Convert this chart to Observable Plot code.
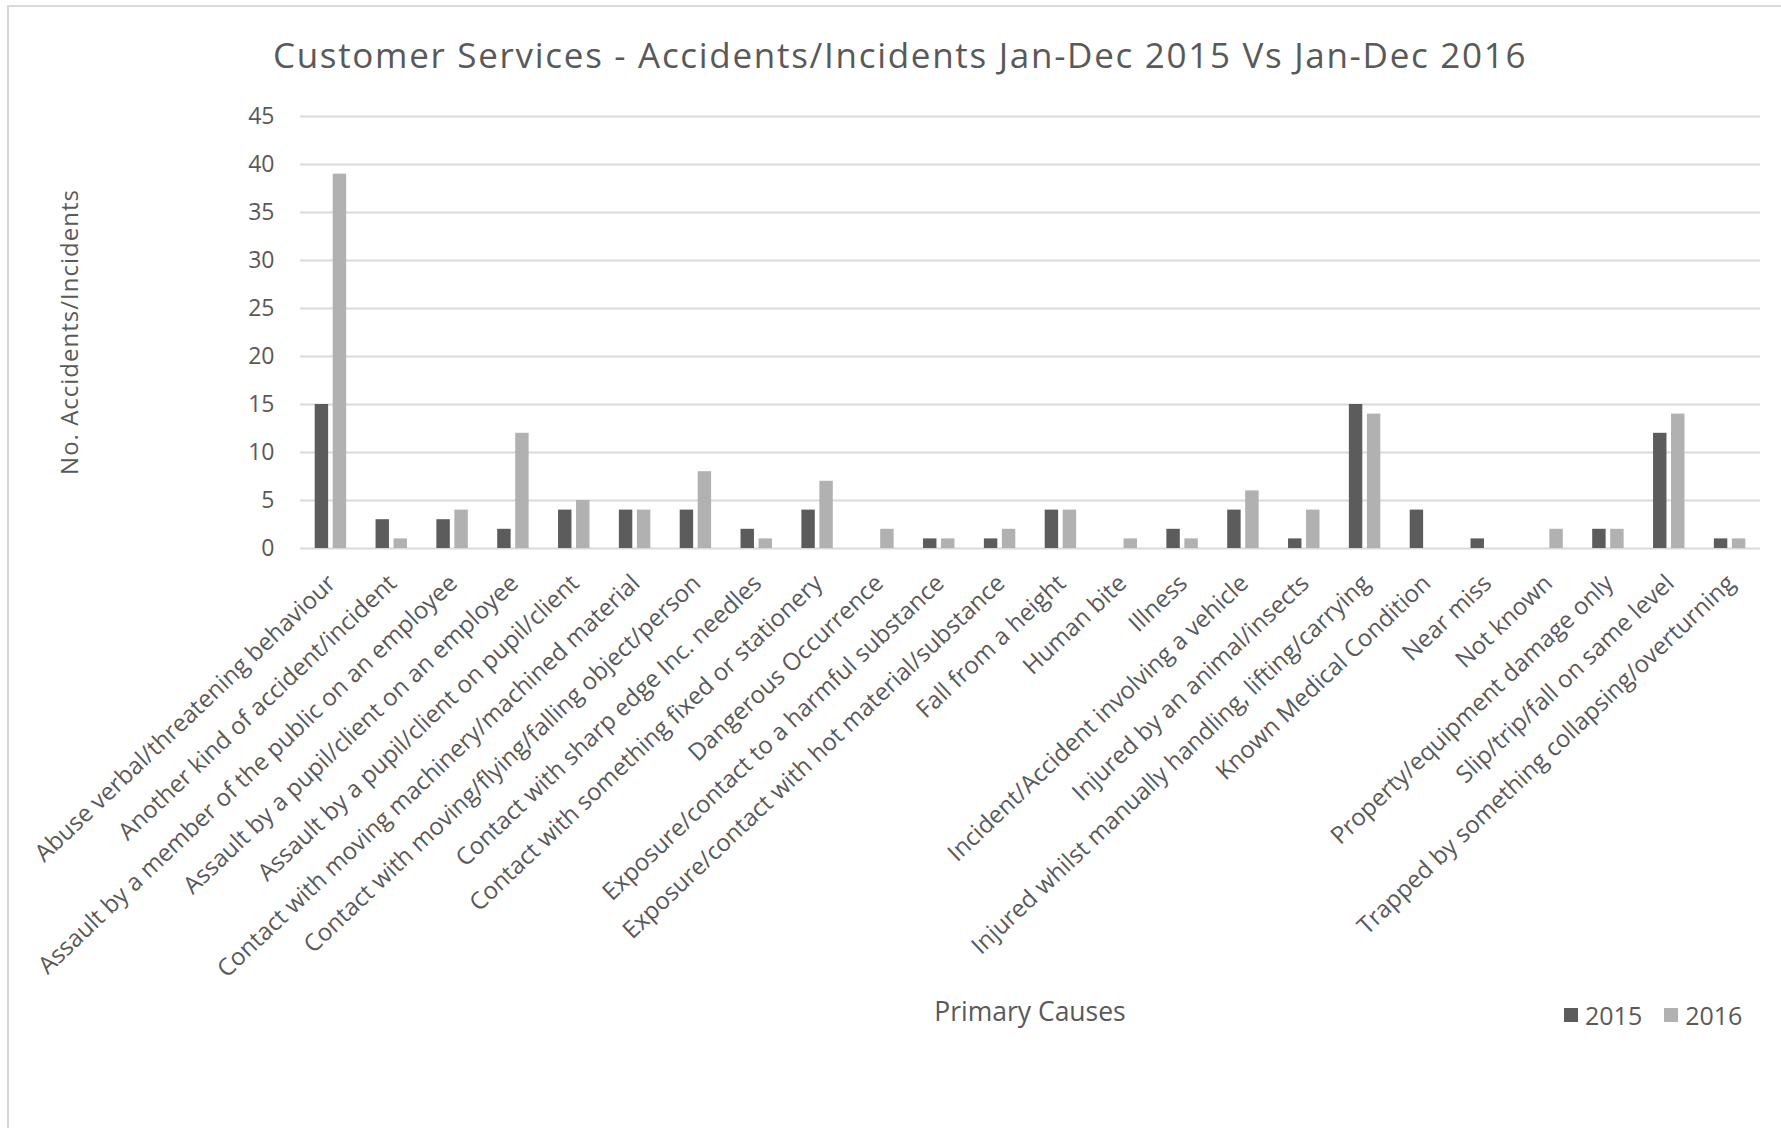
<!DOCTYPE html>
<html>
<head>
<meta charset="utf-8">
<script src="https://cdn.jsdelivr.net/npm/d3@7"></script>
<script src="https://cdn.jsdelivr.net/npm/@observablehq/plot@0.6"></script>
<style>
  html, body { margin: 0; padding: 0; background: #fff; }
  #wrap { position: relative; width: 1781px; height: 1128px; overflow: hidden; font-family: "Open Sans", sans-serif; color: #595959; }
  #border { position: absolute; left: 7px; top: 5px; width: 1800px; height: 1200px; border: 2px solid #d9d9d9; box-sizing: border-box; }
  #title { position: absolute; left: 900px; top: 35px; transform: translateX(-50%); white-space: nowrap; font-size: 35px; letter-spacing: 1.7px; line-height: 40px; }
  #ylabel { position: absolute; left: 69px; top: 332px; transform: translate(-50%, -50%) rotate(-90deg); white-space: nowrap; font-size: 24px; letter-spacing: 1px; line-height: 30px; }
  #xlabel { position: absolute; left: 1030px; top: 996px; transform: translateX(-50%); white-space: nowrap; font-size: 26.5px; line-height: 30px; }
  #legend { position: absolute; left: 1564px; top: 1000px; display: flex; align-items: center; font-size: 25px; line-height: 30px; white-space: nowrap; }
  #legend .sw { display: inline-block; width: 14px; height: 14px; margin-right: 7px; }
  #legend .item { display: flex; align-items: center; margin-right: 22px; }
  #chart { position: absolute; left: 0; top: 0; }
</style>
</head>
<body>
<div id="wrap">
  <div id="border"></div>
  <div id="chart"></div>
  <div id="title"></div>
  <div id="ylabel"></div>
  <div id="xlabel"></div>
  <div id="legend"></div>
</div>
<script>
const titleText = "Customer Services - Accidents/Incidents Jan-Dec 2015 Vs Jan-Dec 2016";
const yLabel = "No. Accidents/Incidents";
const xLabel = "Primary Causes";

const causes = [
  "Abuse verbal/threatening behaviour",
  "Another kind of accident/incident",
  "Assault by a member of the public on an employee",
  "Assault by a pupil/client on an employee",
  "Assault by a pupil/client on pupil/client",
  "Contact with moving machinery/machined material",
  "Contact with moving/flying/falling object/person",
  "Contact with sharp edge Inc. needles",
  "Contact with something fixed or stationery",
  "Dangerous Occurrence",
  "Exposure/contact to a harmful substance",
  "Exposure/contact with hot material/substance",
  "Fall from a height",
  "Human bite",
  "Illness",
  "Incident/Accident involving a vehicle",
  "Injured by an animal/insects",
  "Injured whilst manually handling, lifting/carrying",
  "Known Medical Condition",
  "Near miss",
  "Not known",
  "Property/equipment damage only",
  "Slip/trip/fall on same level",
  "Trapped by something collapsing/overturning"
];

const series = ["2015", "2016"];
const values2015 = [15, 3, 3, 2, 4, 4, 4, 2, 4, 0, 1, 1, 4, 0, 2, 4, 1, 15, 4, 1, 0, 2, 12, 1];
const values2016 = [39, 1, 4, 12, 5, 4, 8, 1, 7, 2, 1, 2, 4, 1, 1, 6, 4, 14, 0, 0, 2, 2, 14, 1];
const yTicks = [0, 5, 10, 15, 20, 25, 30, 35, 40, 45];
const colors = ["#5c5c5c", "#b1b1b1"];

const rows = causes.flatMap((c, i) => [
  {cause: c, year: series[0], value: values2015[i]},
  {cause: c, year: series[1], value: values2016[i]}
]);

const plot = Plot.plot({
  width: 1781,
  height: 1128,
  marginTop: 116,
  marginBottom: 580,
  marginLeft: 300,
  marginRight: 21,
  style: {fontFamily: "Open Sans, sans-serif", fontSize: "23px", color: "#595959", background: "transparent"},
  x: {domain: causes, padding: 0, round: false},
  y: {domain: [0, 45]},
  color: {domain: series, range: colors},
  marks: [
    Plot.ruleY(yTicks, {stroke: "#d9d9d9", strokeWidth: 2}),
    Plot.barY(rows.filter(d => d.year === series[0]), {x: "cause", y: "value", fill: "year", insetLeft: 14.7, insetRight: 32.7}),
    Plot.barY(rows.filter(d => d.year === series[1]), {x: "cause", y: "value", fill: "year", insetLeft: 32.7, insetRight: 14.7}),
    Plot.axisY({ticks: yTicks, tickSize: 0, tickPadding: 26, fontSize: 23, label: null}),
    Plot.axisX({tickRotate: -43.5, tickSize: 0, tickPadding: 31, dx: 1, label: null, fontSize: 24})
  ]
});
document.getElementById("chart").appendChild(plot);

document.getElementById("title").textContent = titleText;
document.getElementById("ylabel").textContent = yLabel;
document.getElementById("xlabel").textContent = xLabel;
const legend = document.getElementById("legend");
series.forEach((s, i) => {
  const item = document.createElement("span");
  item.className = "item";
  const sw = document.createElement("span");
  sw.className = "sw";
  sw.style.background = colors[i];
  item.appendChild(sw);
  item.appendChild(document.createTextNode(s));
  legend.appendChild(item);
});
</script>
</body>
</html>
